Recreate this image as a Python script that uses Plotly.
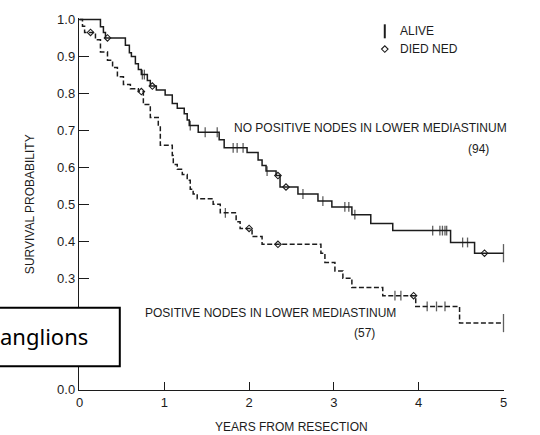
import numpy as np
import plotly.graph_objects as go

# ---- data ----
# No positive nodes in lower mediastinum (n = 94): step times / survival
neg_t = [0, 0.247, 0.282, 0.306, 0.541, 0.588, 0.612, 0.659, 0.694, 0.729,
         0.80, 0.835, 0.906, 1.01, 1.094, 1.153, 1.235, 1.27, 1.294, 1.40,
         1.647, 1.706, 1.976, 2.106, 2.153, 2.20, 2.318, 2.365, 2.576, 2.812,
         2.976, 3.212, 3.435, 3.694, 4.376, 4.659, 5.0]
neg_s = [1.0, 0.98, 0.965, 0.95, 0.93, 0.91, 0.90, 0.88, 0.865, 0.851,
         0.835, 0.82, 0.809, 0.796, 0.773, 0.76, 0.745, 0.728, 0.713, 0.695,
         0.675, 0.653, 0.64, 0.62, 0.605, 0.59, 0.578, 0.547, 0.528, 0.509,
         0.493, 0.472, 0.448, 0.429, 0.397, 0.368, 0.368]
neg_alive = [0.741, 0.765, 1.306, 1.482, 1.624, 1.812, 1.859, 1.929, 2.212,
             2.635, 2.87, 3.129, 3.176, 3.247, 4.165, 4.25, 4.28, 4.31, 4.33,
             4.518, 4.576, 5.0]
neg_died = [0.33, 0.859, 2.34, 2.435, 4.776]

# Positive nodes in lower mediastinum (n = 57)
pos_t = [0, 0.035, 0.06, 0.188, 0.247, 0.33, 0.39, 0.447, 0.518, 0.60,
         0.694, 0.753, 0.835, 0.929, 0.953, 1.094, 1.106, 1.153, 1.212, 1.27,
         1.306, 1.34, 1.388, 1.576, 1.66, 1.847, 1.894, 2.035, 2.153, 2.847,
         2.894, 3.012, 3.106, 3.212, 3.576, 3.965, 4.482, 5.0]
pos_s = [1.0, 0.982, 0.965, 0.945, 0.912, 0.89, 0.87, 0.845, 0.824, 0.813,
         0.805, 0.77, 0.735, 0.712, 0.66, 0.632, 0.608, 0.595, 0.581, 0.565,
         0.541, 0.528, 0.515, 0.50, 0.477, 0.453, 0.435, 0.413, 0.392, 0.368,
         0.343, 0.32, 0.30, 0.275, 0.253, 0.224, 0.179, 0.179]
pos_alive = [1.72, 3.72, 3.79, 4.10, 4.21, 4.31, 5.0]
pos_died = [0.13, 0.729, 2.0, 2.34, 3.94]

y_ticks = [0.0, 0.3, 0.4, 0.5, 0.6, 0.7, 0.8, 0.9, 1.0]
x_ticks = [0, 1, 2, 3, 4, 5]

INK = "#1c1c1c"
FONT = "Liberation Sans, Arial, sans-serif"


def step_at(t, s, x):
    t = np.asarray(t)
    s = np.asarray(s)
    idx = np.searchsorted(t, np.asarray(x), side="right") - 1
    return s[idx]


fig = go.Figure()

for t, s, dash in [(neg_t, neg_s, "solid"), (pos_t, pos_s, "5px,2.5px")]:
    fig.add_trace(go.Scatter(x=t, y=s, mode="lines", line_shape="hv",
                             line=dict(color=INK, width=1.5, dash=dash),
                             hoverinfo="skip", showlegend=False))

for t, s, alive, died in [(neg_t, neg_s, neg_alive, neg_died),
                          (pos_t, pos_s, pos_alive, pos_died)]:
    sizes = [13 if a >= 5.0 else 7 for a in alive]
    fig.add_trace(go.Scatter(x=alive, y=step_at(t, s, alive), mode="markers",
                             marker=dict(symbol="line-ns-open", size=sizes, color=INK,
                                         line=dict(width=1.3, color=INK)),
                             cliponaxis=False, showlegend=False, hoverinfo="skip"))
    fig.add_trace(go.Scatter(x=died, y=step_at(t, s, died), mode="markers",
                             marker=dict(symbol="diamond-open", size=5, color=INK,
                                         line=dict(width=1.1, color=INK)),
                             cliponaxis=False, showlegend=False, hoverinfo="skip"))

# key symbols (top right)
fig.add_trace(go.Scatter(x=[3.6], y=[0.968], mode="markers",
                         marker=dict(symbol="line-ns-open", size=10, color=INK,
                                     line=dict(width=2, color=INK)),
                         cliponaxis=False, showlegend=False, hoverinfo="skip"))
fig.add_trace(go.Scatter(x=[3.6], y=[0.92], mode="markers",
                         marker=dict(symbol="diamond-open", size=5, color=INK,
                                     line=dict(width=1.1, color=INK)),
                         cliponaxis=False, showlegend=False, hoverinfo="skip"))

ann = dict(showarrow=False, font=dict(family=FONT, size=12, color=INK))
annotations = [
    dict(x=3.75, y=0.968, xref="x", yref="y", text="ALIVE", xanchor="left", **ann),
    dict(x=3.75, y=0.92, xref="x", yref="y", text="DIED NED", xanchor="left", **ann),
    dict(x=1.8, y=0.707, xref="x", yref="y", text="NO POSITIVE NODES IN LOWER MEDIASTINUM",
         xanchor="left", **ann),
    dict(x=4.706, y=0.651, xref="x", yref="y", text="(94)", xanchor="center", **ann),
    dict(x=0.753, y=0.205, xref="x", yref="y", text="POSITIVE NODES IN LOWER MEDIASTINUM",
         xanchor="left", **ann),
    dict(x=3.365, y=0.152, xref="x", yref="y", text="(57)", xanchor="center", **ann),
    dict(x=-0.115, y=0.5, xref="paper", yref="paper", text="SURVIVAL PROBABILITY",
         textangle=-90, xanchor="center", yanchor="middle", **ann),
    dict(x=0.5, y=-0.1, xref="paper", yref="paper", text="YEARS FROM RESECTION",
         xanchor="center", yanchor="middle", **ann),
    dict(x=-0.19, y=0.145, xref="paper", yref="paper", text="anglions",
         xanchor="left", yanchor="middle", showarrow=False,
         font=dict(family="Noto Sans, DejaVu Sans, sans-serif", size=22, color="black")),
]

fig.update_layout(
    width=540, height=435,
    margin=dict(l=79, r=36, t=15, b=45),
    paper_bgcolor="white", plot_bgcolor="white",
    annotations=annotations,
    shapes=[dict(type="rect", xref="paper", yref="paper",
                 x0=-0.3, x1=0.096, y0=0.064, y1=0.221,
                 line=dict(color="black", width=2), fillcolor="white", layer="above")],
    xaxis=dict(range=[-0.006, 5.006], tickvals=x_ticks, ticktext=[str(v) for v in x_ticks],
               ticks="inside", ticklen=8, tickwidth=1.2, tickcolor=INK,
               showline=True, linecolor=INK, linewidth=1.4, showgrid=False, zeroline=False,
               tickfont=dict(family=FONT, size=13, color=INK)),
    yaxis=dict(range=[-0.002, 1.004], tickvals=y_ticks, ticktext=[f"{v:.1f}" for v in y_ticks],
               ticks="inside", ticklen=10, tickwidth=1.2, tickcolor=INK,
               showline=True, linecolor=INK, linewidth=1.4, showgrid=False, zeroline=False,
               tickfont=dict(family=FONT, size=13, color=INK)),
)

fig.write_html("out.html")
